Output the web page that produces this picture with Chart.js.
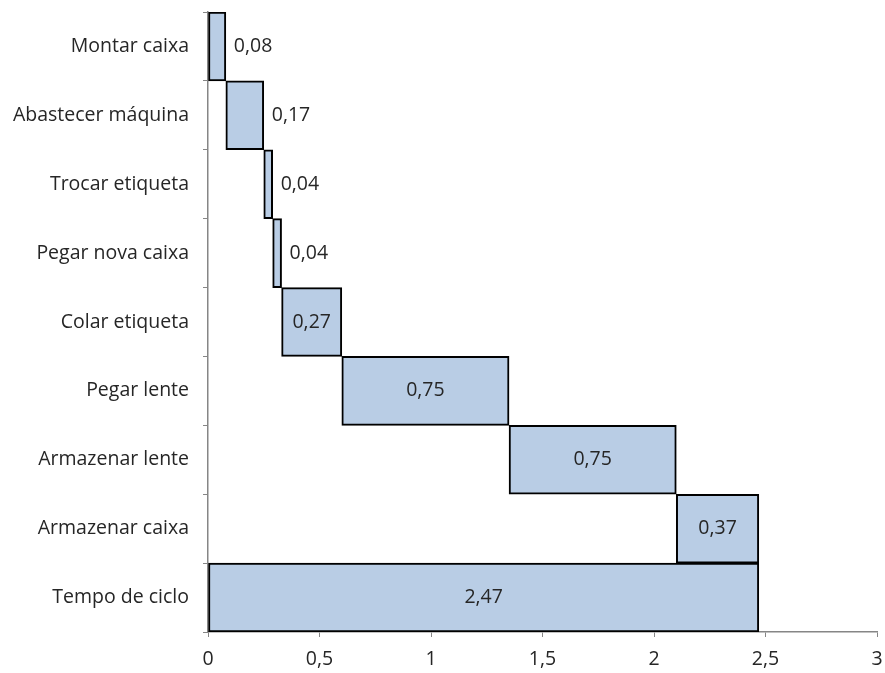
<!DOCTYPE html>
<html lang="pt">
<head>
    <meta charset="utf-8">
    <script src="https://cdn.jsdelivr.net/npm/chart.js"></script>
    <style>
        body { margin: 0; background: #fff; }
        #wrap { width: 885px; height: 673px; }
    </style>
</head>
<body>
    <div id="wrap"><canvas id="tempoChart" width="885" height="673"></canvas></div>

    <script>
        // etapas do processo e duração de cada uma (min)
        const etapas = ["Montar caixa", "Abastecer máquina", "Trocar etiqueta", "Pegar nova caixa",
                        "Colar etiqueta", "Pegar lente", "Armazenar lente", "Armazenar caixa", "Tempo de ciclo"];
        const duracoes = [0.08, 0.17, 0.04, 0.04, 0.27, 0.75, 0.75, 0.37, 2.47];
        const xTicks = [0, 0.5, 1, 1.5, 2, 2.5, 3];

        // barras flutuantes: cada etapa começa onde a anterior termina, o total começa no zero
        let acumulado = 0;
        const barras = duracoes.map((d, i) => {
            if (i === duracoes.length - 1) return [0, d];
            const b = [acumulado, +(acumulado + d).toFixed(2)];
            acumulado = b[1];
            return b;
        });

        const fonte = { family: "'Open Sans', sans-serif", size: 19.5 };
        const corTexto = '#262626';
        const corEixo = '#868686';

        const fmt = v => String(v).replace('.', ',');

        // rótulos de dados: centrados na barra, ou à direita se não couber
        const rotulos = {
            id: 'rotulos',
            afterDatasetsDraw(chart) {
                const c = chart.ctx;
                const meta = chart.getDatasetMeta(0);
                c.save();
                c.font = fonte.size + 'px ' + fonte.family;
                c.fillStyle = corTexto;
                c.textBaseline = 'middle';
                meta.data.forEach((bar, i) => {
                    const txt = fmt(duracoes[i]);
                    const w = c.measureText(txt).width;
                    const left = Math.min(bar.x, bar.base);
                    const right = Math.max(bar.x, bar.base);
                    if (right - left > w + 10) {
                        c.textAlign = 'center';
                        c.fillText(txt, (left + right) / 2, bar.y);
                    } else {
                        c.textAlign = 'left';
                        c.fillText(txt, right + 8, bar.y);
                    }
                });
                c.restore();
            }
        };

        const ctx = document.getElementById('tempoChart').getContext('2d');
        new Chart(ctx, {
            type: 'bar',
            data: {
                labels: etapas,
                datasets: [{
                    data: barras,
                    backgroundColor: '#B9CDE5',
                    borderColor: '#000000',
                    borderWidth: 2,
                    borderSkipped: false,
                    barPercentage: 1,
                    categoryPercentage: 1
                }]
            },
            options: {
                responsive: false,
                animation: false,
                indexAxis: 'y',
                layout: { padding: { top: 12, right: 8, bottom: 0, left: 0 } },
                scales: {
                    x: {
                        min: 0, max: 3,
                        z: 1,
                        afterBuildTicks: axis => { axis.ticks = xTicks.map(v => ({ value: v })); },
                        afterFit: axis => { axis.height = 41; axis.paddingLeft = 0; axis.paddingRight = 0; },
                        grid: { drawOnChartArea: false, tickLength: 5, color: corEixo },
                        border: { color: corEixo, width: 1.5 },
                        ticks: { font: fonte, color: corTexto, padding: 11, callback: v => fmt(v) }
                    },
                    y: {
                        z: 1,
                        afterFit: axis => { axis.width = 208; axis.paddingTop = 0; axis.paddingBottom = 0; },
                        grid: { offset: true, drawOnChartArea: false, tickLength: 5, color: corEixo },
                        border: { color: corEixo, width: 1.5 },
                        ticks: { font: fonte, color: corTexto, padding: 14 }
                    }
                },
                plugins: {
                    legend: { display: false },
                    tooltip: { enabled: false }
                }
            },
            plugins: [rotulos]
        });
    </script>
</body>
</html>
